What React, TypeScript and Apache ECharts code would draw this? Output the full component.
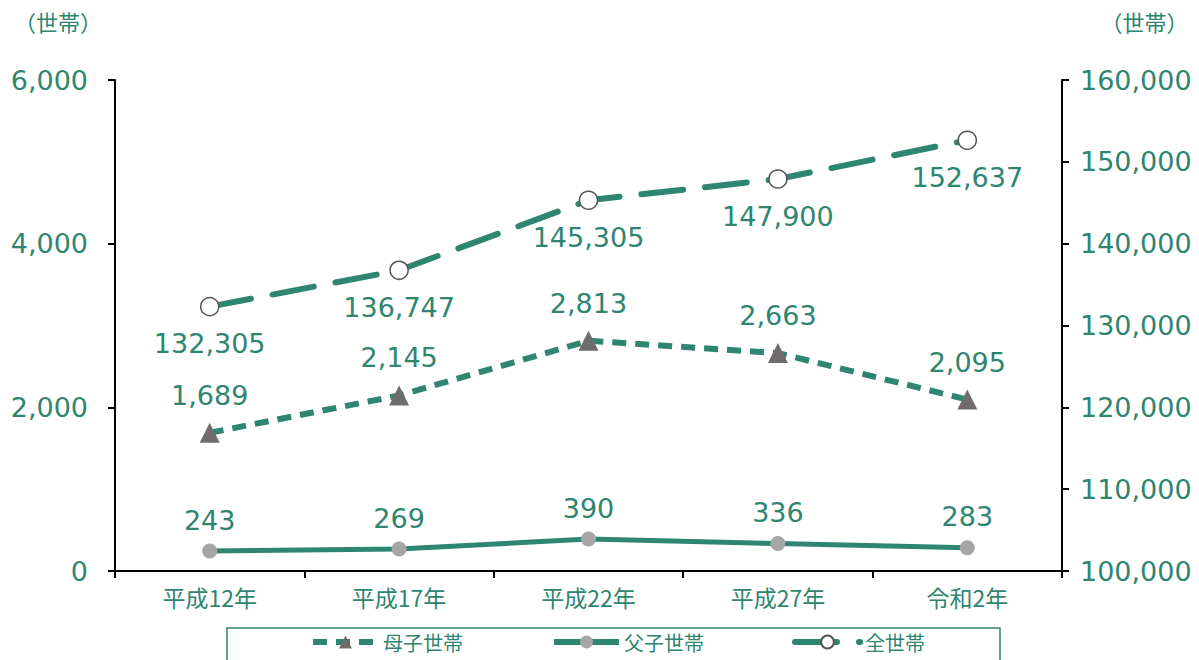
import React, { useEffect, useRef } from "react";
import * as echarts from "echarts";

const categories = ["平成12年", "平成17年", "平成22年", "平成27年", "令和2年"];
const boshi = [1689, 2145, 2813, 2663, 2095];
const fushi = [243, 269, 390, 336, 283];
const zen = [132305, 136747, 145305, 147900, 152637];

const GREEN = "#2E8570";
const FONT = "'Noto Sans CJK JP', 'Noto Sans', sans-serif";
const NUMFONT = "'DejaVu Sans', 'Noto Sans CJK JP', sans-serif";

export default function App() {
  const ref = useRef<HTMLDivElement>(null);
  useEffect(() => {
    const chart = echarts.init(ref.current!, null, { renderer: "svg" });
    const fmt = (v: number) => v.toLocaleString("en-US");
    const labelStyle = {
      show: true,
      color: GREEN,
      fontSize: 27,
      fontFamily: NUMFONT,
      formatter: (p: any) => fmt(p.value),
    };
    chart.setOption({
      animation: false,
      textStyle: { fontFamily: FONT },
      grid: { left: 115, right: 137, top: 80, bottom: 89, outerBoundsMode: "none", containLabel: false },
      legend: {
        left: 310,
        top: 631,
        itemWidth: 65,
        itemHeight: 16,
        itemGap: 88,
        padding: 0,
        lineStyle: { width: 6 },
        textStyle: { color: GREEN, fontSize: 20, fontFamily: FONT, lineHeight: 22 },
        data: ["母子世帯", "父子世帯", "全世帯"],
      },
      graphic: [
        {
          type: "rect",
          shape: { x: 227, y: 628, width: 773, height: 40 },
          style: { fill: "none", stroke: GREEN, lineWidth: 1.5 },
          silent: true,
        },
      ],
      xAxis: {
        type: "category",
        data: categories,
        boundaryGap: true,
        axisLine: { lineStyle: { color: "#000", width: 2 } },
        axisTick: { show: true, length: 7, lineStyle: { color: "#000", width: 2 } },
        axisLabel: { color: GREEN, fontSize: 23, fontFamily: FONT, margin: 14 },
      },
      yAxis: [
        {
          type: "value",
          min: 0,
          max: 6000,
          interval: 2000,
          name: "（世帯）",
          nameLocation: "end",
          nameGap: 0,
          nameTextStyle: { color: GREEN, fontSize: 22, fontFamily: FONT, align: "center", padding: [0, 0, 48, -114] },
          axisLine: { show: true, lineStyle: { color: "#000", width: 2 } },
          axisTick: { show: true, length: 7, lineStyle: { color: "#000", width: 2 } },
          splitLine: { show: false },
          axisLabel: { color: GREEN, fontSize: 27, fontFamily: NUMFONT, margin: 27, formatter: (v: number) => fmt(v) },
        },
        {
          type: "value",
          min: 100000,
          max: 160000,
          interval: 10000,
          name: "（世帯）",
          nameLocation: "end",
          nameGap: 0,
          nameTextStyle: { color: GREEN, fontSize: 22, fontFamily: FONT, align: "center", padding: [0, -165, 48, 0] },
          axisLine: { show: true, lineStyle: { color: "#000", width: 2 } },
          axisTick: { show: true, length: 7, lineStyle: { color: "#000", width: 2 } },
          splitLine: { show: false },
          axisLabel: { color: GREEN, fontSize: 27, fontFamily: NUMFONT, margin: 18, formatter: (v: number) => fmt(v) },
        },
      ],
      series: [
        {
          name: "母子世帯",
          type: "line",
          yAxisIndex: 0,
          data: boshi,
          symbol: "triangle",
          symbolSize: 20,
          itemStyle: { color: "#716C6C" },
          lineStyle: { color: GREEN, width: 6, type: [14, 9] },
          label: { ...labelStyle, position: "top", distance: 14 },
          z: 3,
        },
        {
          name: "父子世帯",
          type: "line",
          yAxisIndex: 0,
          data: fushi,
          symbol: "circle",
          symbolSize: 15,
          itemStyle: { color: "#A6A6A6" },
          lineStyle: { color: GREEN, width: 5 },
          label: { ...labelStyle, position: "top", distance: 10 },
          z: 3,
        },
        {
          name: "全世帯",
          type: "line",
          yAxisIndex: 1,
          data: zen,
          symbol: "circle",
          symbolSize: 18,
          itemStyle: { color: "#fff", borderColor: "#555", borderWidth: 1.5 },
          lineStyle: { color: GREEN, width: 6, type: [42, 22], cap: "round" },
          label: { ...labelStyle, position: "bottom", distance: 14 },
          z: 3,
        },
      ],
    });
    return () => chart.dispose();
  }, []);
  return <div ref={ref} style={{ width: 1199, height: 660, position: "absolute", left: 0, top: 0 }} />;
}
